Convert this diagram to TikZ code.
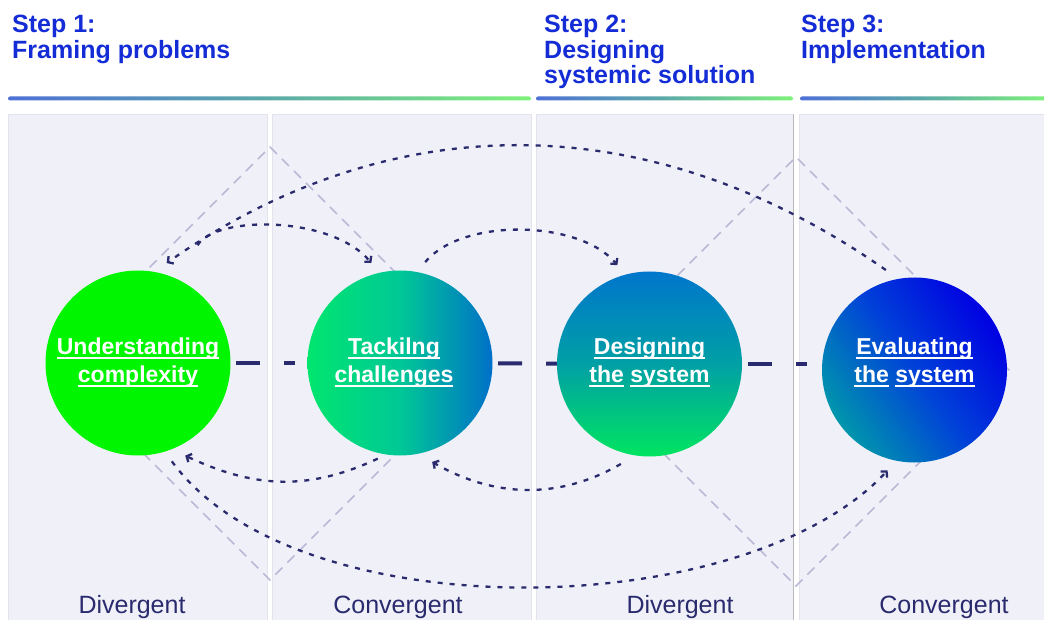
\documentclass[tikz,border=0pt]{standalone}
\usepackage{fontspec}
\setmainfont{Liberation Sans}
\usetikzlibrary{arrows.meta,backgrounds}

\definecolor{stepblue}{RGB}{20,44,214}
\definecolor{navy}{RGB}{42,42,110}
\definecolor{panelgray}{RGB}{240,241,248}
\definecolor{paneledge}{RGB}{226,227,236}
\definecolor{diamgray}{RGB}{186,185,214}
\definecolor{barblue}{RGB}{78,112,214}
\definecolor{barteal}{RGB}{92,170,168}
\definecolor{bargreen}{RGB}{126,242,122}
\definecolor{brightgreen}{RGB}{0,245,0}
\definecolor{tackleft}{RGB}{0,230,110}
\definecolor{tackmid}{RGB}{0,200,150}
\definecolor{tackright}{RGB}{0,112,200}
\definecolor{designtop}{RGB}{0,118,204}
\definecolor{designmid}{RGB}{0,160,165}
\definecolor{designbot}{RGB}{0,228,96}
\definecolor{evaldeep}{RGB}{0,0,226}
\definecolor{evalmid}{RGB}{0,66,216}
\definecolor{evalteal}{RGB}{0,150,172}

\newcommand{\uln}[1]{\sbox0{#1}\rlap{\rule[-4.3pt]{\wd0}{2pt}}#1}

\begin{document}
\begin{tikzpicture}[x=1pt,y=1pt,
  panel/.style={fill=panelgray,draw=paneledge,line width=0.6pt},
  bar/.style={left color=barblue,right color=bargreen,middle color=barteal,rounded corners=2pt},
  steptitle/.style={anchor=north west,inner sep=0pt,align=left,text=stepblue,
    font=\fontsize{25}{25.5}\selectfont\bfseries},
  phase/.style={circle,minimum size=185pt,inner sep=0pt,outer sep=11.5pt},
  phasetext/.style={text=white,align=center,inner sep=0pt,
    font=\fontsize{23}{28}\selectfont\bfseries},
  mode/.style={anchor=base,text=navy,inner sep=0pt,font=\fontsize{25}{30}\selectfont},
  diamondline/.style={draw=diamgray,line width=1.6pt,dash pattern=on 10pt off 7pt},
  link/.style={draw=navy,line width=4pt,dash pattern=on 24pt off 24pt on 11pt off 190pt,dash phase=151pt},
  loop/.style={draw=navy,line width=2.3pt,dash pattern=on 5pt off 7pt,
    -{Straight Barb[length=4pt,width=9pt]}}
]
\useasboundingbox (0,0) rectangle (1044,619);

% columns
\begin{scope}[on background layer]
\draw[panel] (8,-1) rectangle (267,505);
\draw[panel] (272,-1) rectangle (531,505);
\draw[panel] (536,-1) rectangle (793,505);
\draw[panel] (799,-1) rectangle (1046,505);
\draw[gray!55,line width=0.8pt] (793,-1) -- (793,505);
\end{scope}

% step titles
\node[steptitle] (s1) at (12,604) {Step 1:\\Framing problems};
\node[steptitle] (s2) at (544,604) {Step 2:\\Designing\\systemic solution};
\node[steptitle] (s3) at (801,604) {Step 3:\\Implementation};

\shade[bar] (8,518.5) rectangle (531,522.5);
\shade[bar] (536,518.5) rectangle (793,522.5);
\shade[bar] (800,518.5) rectangle (1048,522.5);

% phases
\node[phase,fill=brightgreen] (c1) at (138,256) {};
\node[phase,left color=tackleft,right color=tackright,middle color=tackmid] (c2) at (400,256) {};
\node[phase,top color=designtop,bottom color=designbot,middle color=designmid] (c3) at (649.5,255) {};
\node[phase,top color=evaldeep,bottom color=evalteal,middle color=evalmid,shading angle=-55] (c4) at (914.5,249) {};

\node[phasetext] (t1) at (c1) {\uln{Understanding}\\\uln{complexity}};
\node[phasetext] (t2) at ([xshift=-6pt]c2) {\uln{Tackilng}\\\uln{challenges}};
\node[phasetext] (t3) at ([yshift=1pt]c3) {\uln{Designing}\\\uln{the} \uln{system}};
\node[phasetext] (t4) at ([yshift=7pt]c4) {\uln{Evaluating}\\\uln{the} \uln{system}};

% double diamonds and links behind the circles
\begin{scope}[on background layer]
\draw[diamondline] (53.5,255.5) -- (270,472) -- (486.5,255.5) -- (270,39) -- cycle;
\draw[diamondline] (581.5,247.5) -- (796,462) -- (1010.5,247.5) -- (796,33) -- cycle;
\draw[link] (c1.center) -- (c2.center);
\draw[link] (c2.center) -- (c3.center);
\draw[link] (c3.center) -- (c3.center -| c4.center);
\end{scope}

% feedback loops
\draw[loop,shorten <=28pt] (c1.64) to[out=60,in=130,looseness=0.85] (c2.106);
\draw[loop] (c2.76) to[out=50,in=130,looseness=0.78] (c3.108);
\draw[loop] (c4.106) to[out=145,in=35,looseness=1] (c1.74);
\draw[loop,shorten <=-9pt] (c2.253) to[out=205,in=-25] (c1.297);
\draw[loop] (c3.254) to[out=210,in=-30,looseness=0.97] (c2.288);
\draw[loop] (c1.289) to[out=-54,in=227,looseness=0.75] (c4.255);

% modes
\node[mode] (m1) at (132,6) {Divergent};
\node[mode] (m2) at (398,6) {Convergent};
\node[mode] (m3) at (680,6) {Divergent};
\node[mode] (m4) at (944,6) {Convergent};

\end{tikzpicture}
\end{document}
